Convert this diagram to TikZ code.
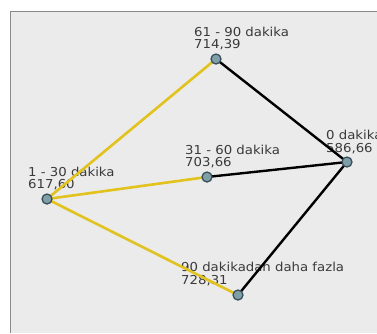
\documentclass[tikz,border=0pt]{standalone}
\usepackage{fontspec}
\setmainfont[FakeStretch=1.08]{DejaVu Sans}
\definecolor{bgc}{HTML}{EBEBEB}
\definecolor{framec}{HTML}{8A8A8A}
\definecolor{ylw}{HTML}{E2C21C}
\definecolor{txt}{HTML}{3A3A3A}
\definecolor{nodefill}{HTML}{7F9FA8}
\definecolor{nodeline}{HTML}{3A4F5A}
\begin{document}
\begin{tikzpicture}[x=1pt,y=-1pt,
  pt/.style={circle,draw=nodeline,fill=nodefill,line width=1.3pt,minimum size=10pt,inner sep=0pt},
  lbl/.style={anchor=base west,align=left,text=txt,inner sep=0pt,font=\fontsize{12.3}{12.5}\selectfont},
  yl/.style={draw=ylw,line width=2.6pt},
  bk/.style={draw=black,line width=2.4pt}]
\useasboundingbox (0,0) rectangle (377,333);
\fill[white] (0,0) rectangle (377,333);
\fill[bgc] (10,11) rectangle (377,333);
\draw[framec,line width=1pt] (10,333) -- (10,11) -- (377,11);
% labels (anchored at baseline of last line)
\node[lbl] (l1) at (194,48.5) {61 - 90 dakika\\714,39};
\node[lbl] (l2) at (326,152) {0 dakika\\586,66};
\node[lbl] (l3) at (185,166.5) {31 - 60 dakika\\703,66};
\node[lbl] (l4) at (28,188.5) {1 - 30 dakika\\617,60};
\node[lbl] (l5) at (181,284) {90 dakikadan daha fazla\\728,31};
% node coordinates
\coordinate (a) at (216,59);
\coordinate (b) at (347,162);
\coordinate (c) at (207,177);
\coordinate (d) at (47,199);
\coordinate (e) at (238,295);
% edges
\draw[yl] (d) -- (a);
\draw[yl] (d) -- (c);
\draw[yl] (d) -- (e);
\draw[bk] (b) -- (a);
\draw[bk] (b) -- (c);
\draw[bk] (b) -- (e);
% nodes
\node[pt] (na) at (a) {};
\node[pt] (nb) at (b) {};
\node[pt] (nc) at (c) {};
\node[pt] (nd) at (d) {};
\node[pt] (ne) at (e) {};
\end{tikzpicture}
\end{document}
